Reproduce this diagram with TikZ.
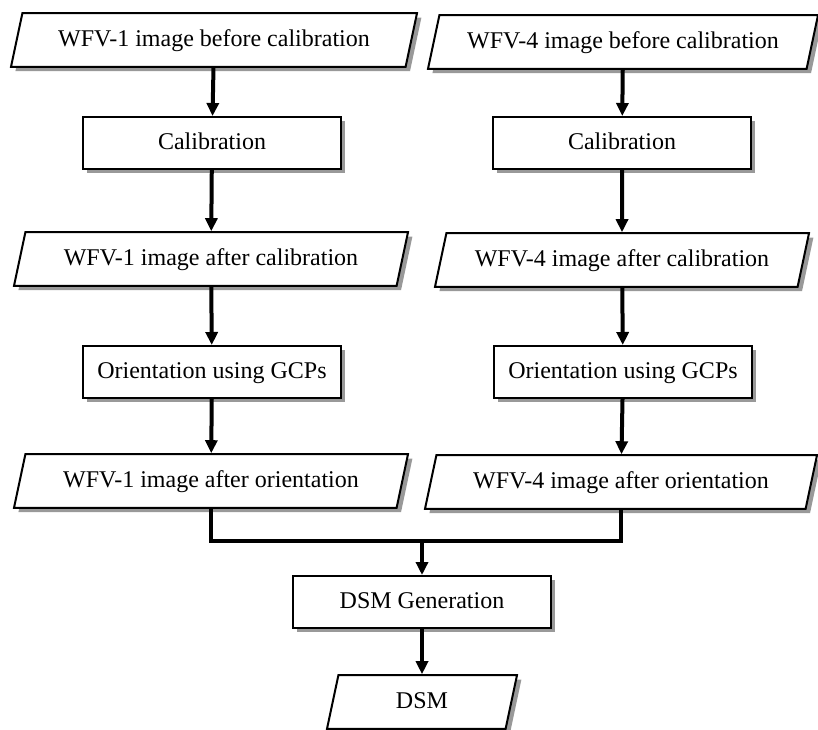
\documentclass[tikz,border=0pt]{standalone}
\usepackage{fontspec}
\setmainfont{Liberation Serif}
\usetikzlibrary{shapes.geometric,shadows,arrows.meta}

\tikzset{
  base/.style={draw=black, line width=1pt, fill=white, inner xsep=0pt,
    font=\fontsize{12}{14}\selectfont, text height=8.5pt, text depth=2.5pt,
    drop shadow={shadow xshift=2.2pt, shadow yshift=-2.2pt, fill=black!40, opacity=1}},
  databox/.style={base, trapezium, trapezium left angle=78, trapezium right angle=102,
    trapezium stretches body, inner ysep=7.9pt, minimum width=197pt},
  procbox/.style={base, rectangle, inner ysep=7.5pt, minimum width=129pt},
  arr/.style={line width=2pt, -{Triangle[length=6.5pt,width=6pt]}},
  link/.style={line width=2pt}
}

\begin{document}
\begin{tikzpicture}[x=0.5pt, y=-0.5pt]
\useasboundingbox (0,0) rectangle (818,729);

\node[databox, minimum width=203pt] (L1) at (214,40) {WFV-1 image before calibration};
\node[procbox] (LC) at (212,143) {Calibration};
\node[databox] (L2) at (211,259) {WFV-1 image after calibration};
\node[procbox] (LO) at (212,372) {Orientation using GCPs};
\node[databox] (L3) at (211,481) {WFV-1 image after orientation};

\node[databox, minimum width=195pt] (R1) at (623,42) {WFV-4 image before calibration};
\node[procbox] (RC) at (622,143) {Calibration};
\node[databox, minimum width=187pt] (R2) at (622,260) {WFV-4 image after calibration};
\node[procbox] (RO) at (623,372) {Orientation using GCPs};
\node[databox, minimum width=196pt] (R3) at (621,482) {WFV-4 image after orientation};

\node[procbox] (DG) at (422,602) {DSM Generation};
\node[databox, minimum width=95pt] (D) at (422,702) {DSM};

\coordinate (J) at (422,541);

\draw[arr] (L1) -- (LC);
\draw[arr] (LC) -- (L2);
\draw[arr] (L2) -- (LO);
\draw[arr] (LO) -- (L3);
\draw[arr] (R1) -- (RC);
\draw[arr] (RC) -- (R2);
\draw[arr] (R2) -- (RO);
\draw[arr] (RO) -- (R3);
\draw[link] (L3.south) |- (J) -| (R3.south);
\draw[arr] (J) -- (DG);
\draw[arr] (DG) -- (D);

\end{tikzpicture}
\end{document}
